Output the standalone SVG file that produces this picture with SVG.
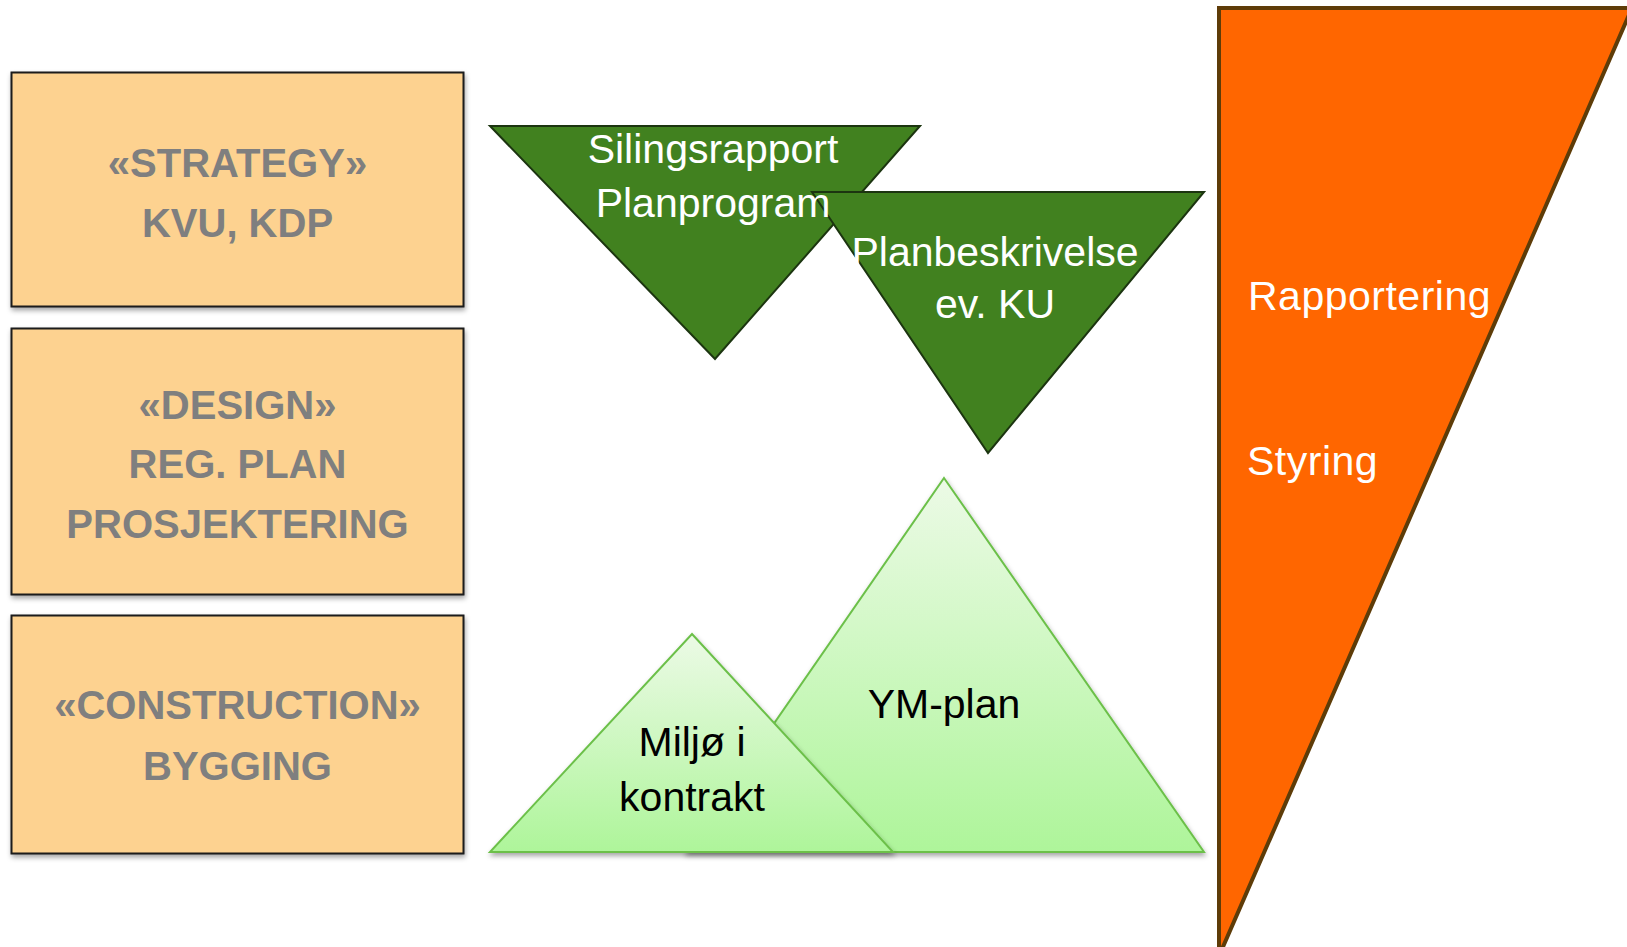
<svg xmlns="http://www.w3.org/2000/svg" width="1627" height="947" viewBox="0 0 1627 947">
  <defs>
    <linearGradient id="lightGreen" x1="0" y1="0" x2="0" y2="1">
      <stop offset="0" stop-color="#ecfae6"/>
      <stop offset="1" stop-color="#aef59a"/>
    </linearGradient>
    <filter id="shadow" x="-10%" y="-10%" width="120%" height="125%">
      <feDropShadow dx="1" dy="3" stdDeviation="2.5" flood-color="#000" flood-opacity="0.35"/>
    </filter>
    <style>
      .box { fill: #fdd290; stroke: #1a1a1a; stroke-width: 2; filter: url(#shadow); }
      .boxText { font-family: "Liberation Sans", Arial, sans-serif; font-weight: bold; font-size: 40px; fill: #7f7f7f; text-anchor: middle; }
      .dark { fill: #41811f; stroke: #1c3510; stroke-width: 2; }
      .darkText { font-family: "Liberation Sans", Arial, sans-serif; font-size: 41px; fill: #ffffff; text-anchor: middle; }
      .light { fill: url(#lightGreen); stroke: #6cc04a; stroke-width: 2; filter: url(#shadow); }
      .lightText { font-family: "Liberation Sans", Arial, sans-serif; font-size: 41px; fill: #000000; text-anchor: middle; }
      .orange { fill: #ff6600; stroke: #5e3c08; stroke-width: 4; }
      .orangeText { font-family: "Liberation Sans", Arial, sans-serif; font-size: 41px; fill: #ffffff; letter-spacing: 0.5px; }
    </style>
  </defs>
  <rect width="1627" height="947" fill="#ffffff"/>

  <g id="strategy">
    <rect class="box" x="11.5" y="72.5" width="452" height="234"/>
    <text class="boxText" x="237.5" y="177">«STRATEGY»</text>
    <text class="boxText" x="237.5" y="237">KVU, KDP</text>
  </g>

  <g id="design">
    <rect class="box" x="11.5" y="328.5" width="452" height="266"/>
    <text class="boxText" x="237.5" y="419">«DESIGN»</text>
    <text class="boxText" x="237.5" y="478">REG. PLAN</text>
    <text class="boxText" x="237.5" y="538">PROSJEKTERING</text>
  </g>

  <g id="construction">
    <rect class="box" x="11.5" y="615.5" width="452" height="238"/>
    <text class="boxText" x="237.5" y="719">«CONSTRUCTION»</text>
    <text class="boxText" x="237.5" y="780">BYGGING</text>
  </g>

  <g id="silingsrapport">
    <polygon class="dark" points="490,126 920,126 715,359"/>
  </g>

  <g id="planbeskrivelse">
    <polygon class="dark" points="812,192 1204,192 988,453"/>
    <text class="darkText" x="995" y="266">Planbeskrivelse</text>
    <text class="darkText" x="995" y="318">ev. KU</text>
  </g>

  <g id="silingsrapport-label">
    <text class="darkText" x="713" y="163">Silingsrapport</text>
    <text class="darkText" x="713" y="217">Planprogram</text>
  </g>

  <g id="ym-plan">
    <polygon class="light" points="944,478 1204,852 685,852"/>
    <text class="lightText" x="944" y="718">YM-plan</text>
  </g>

  <g id="miljo">
    <polygon class="light" points="692,634 893,852 490,852"/>
    <text class="lightText" x="692" y="756">Miljø i</text>
    <text class="lightText" x="692" y="811">kontrakt</text>
  </g>

  <g id="rapportering">
    <polygon class="orange" points="1219,8 1632,8 1219,956"/>
    <text class="orangeText" x="1248" y="310">Rapportering</text>
    <text class="orangeText" x="1247" y="475">Styring</text>
  </g>

  <g id="connectors"></g>
</svg>
